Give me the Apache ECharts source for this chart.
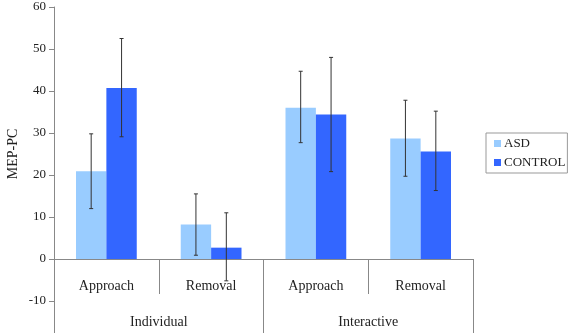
<!DOCTYPE html>
<html>
<head>
<meta charset="utf-8">
<script src="https://cdn.jsdelivr.net/npm/echarts@6/dist/echarts.min.js"></script>
<style>
  html, body { margin: 0; padding: 0; background: #fff; }
  #chart { width: 570px; height: 333px; }
</style>
</head>
<body>
<div id="chart"></div>
<script>
const categories = ["Approach", "Removal", "Approach", "Removal"];
const groups = ["Individual", "Interactive"];
const seriesNames = ["ASD", "CONTROL"];

const asdValues = [20.9, 8.2, 36.0, 28.7];
const asdLow = [12.0, 0.9, 27.7, 19.7];
const asdHigh = [29.8, 15.5, 44.7, 37.8];

const controlValues = [40.7, 2.7, 34.4, 25.6];
const controlLow = [29.1, -5.2, 20.8, 16.3];
const controlHigh = [52.5, 11.0, 48.0, 35.2];

const colors = ["#99ccff", "#3366ff"];
const font = "Liberation Serif";
const barCategoryGap = 0.42;

function errorSeries(name, low, high, side) {
  return {
    name: name,
    type: "custom",
    z: 5,
    data: low.map((l, i) => [i, l, high[i]]),
    encode: { x: 0, y: [1, 2] },
    renderItem: (params, api) => {
      const band = api.size([1, 0])[0];
      const barW = band * (1 - barCategoryGap) / 2;
      const lowPt = api.coord([api.value(0), api.value(1)]);
      const highPt = api.coord([api.value(0), api.value(2)]);
      const x = lowPt[0] + side * barW / 2;
      const cap = 2;
      const style = { stroke: "#333", lineWidth: 1 };
      return {
        type: "group",
        children: [
          { type: "line", shape: { x1: x, y1: highPt[1], x2: x, y2: lowPt[1] }, style: style },
          { type: "line", shape: { x1: x - cap, y1: highPt[1], x2: x + cap, y2: highPt[1] }, style: style },
          { type: "line", shape: { x1: x - cap, y1: lowPt[1], x2: x + cap, y2: lowPt[1] }, style: style }
        ]
      };
    }
  };
}

const chart = echarts.init(document.getElementById("chart"));

const option = {
  animation: false,
  textStyle: { fontFamily: font },
  grid: { left: 54, right: 97, top: 7, bottom: 32, containLabel: false, outerBoundsMode: "none" },
  legend: {
    data: seriesNames,
    orient: "vertical",
    left: 486,
    top: 133,
    icon: "rect",
    itemWidth: 7,
    itemHeight: 7,
    itemGap: 6,
    padding: [4, 2, 4, 8],
    borderColor: "#999",
    borderWidth: 1,
    textStyle: { fontFamily: font, fontSize: 13, color: "#222", padding: [0, 0, 0, -2] }
  },
  xAxis: [
    {
      type: "category",
      data: categories,
      position: "bottom",
      axisLine: { onZero: true, onZeroAxisIndex: 0, lineStyle: { color: "#888" } },
      axisTick: { show: true, length: 35, interval: 0, lineStyle: { color: "#888" } },
      axisLabel: { margin: -22, fontSize: 14, color: "#222", fontFamily: font }
    },
    {
      type: "category",
      data: groups,
      position: "bottom",
      axisLine: { show: false, onZero: true, onZeroAxisIndex: 0 },
      axisTick: { show: true, length: 74, interval: 0, lineStyle: { color: "#888" } },
      axisLabel: { margin: 14, fontSize: 14, color: "#222", fontFamily: font }
    }
  ],
  yAxis: {
    type: "value",
    min: -10,
    max: 60,
    interval: 10,
    name: "MEP-PC",
    nameLocation: "middle",
    nameRotate: 90,
    nameGap: 34,
    nameMoveOverlap: false,
    nameTextStyle: { fontFamily: font, fontSize: 14, color: "#222" },
    axisLine: { show: true, lineStyle: { color: "#888" } },
    axisTick: { show: true, length: 5, lineStyle: { color: "#888" } },
    axisLabel: { fontSize: 13, color: "#222", fontFamily: font, margin: 8 },
    splitLine: { show: false }
  },
  series: [
    {
      name: seriesNames[0],
      type: "bar",
      data: asdValues,
      itemStyle: { color: colors[0] },
      barGap: "0%",
      barCategoryGap: (barCategoryGap * 100) + "%"
    },
    {
      name: seriesNames[1],
      type: "bar",
      data: controlValues,
      itemStyle: { color: colors[1] }
    },
    errorSeries("ASD err", asdLow, asdHigh, -1),
    errorSeries("CONTROL err", controlLow, controlHigh, 1)
  ]
};

chart.setOption(option);
</script>
</body>
</html>
